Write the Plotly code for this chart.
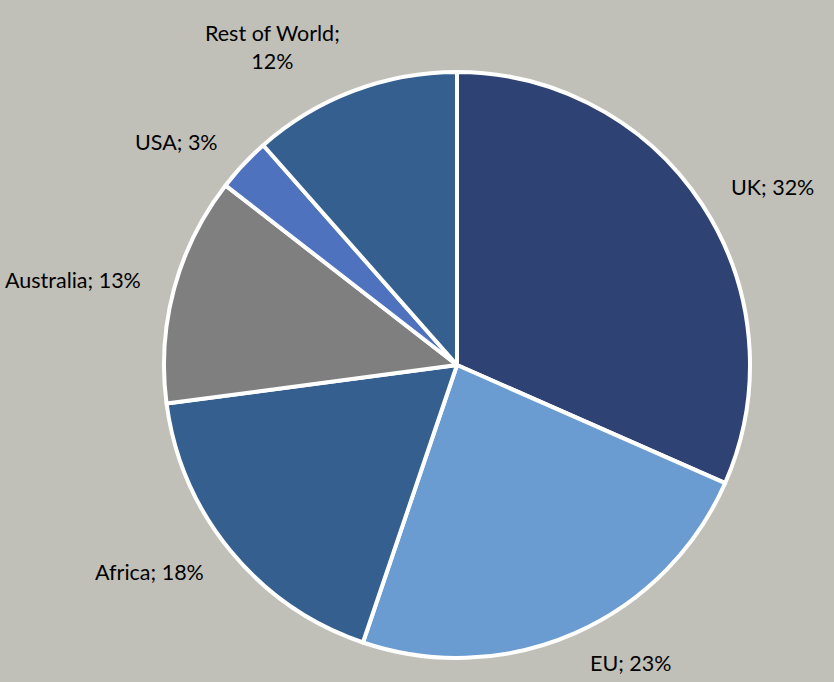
import math
import plotly.graph_objects as go

regions = ["UK", "EU", "Africa", "Australia", "USA", "Rest of World"]
shares = [31.6, 23.6, 17.7, 12.6, 3.0, 11.5]
label_texts = ["UK; 32%", "EU; 23%", "Africa; 18%", "Australia; 13%", "USA; 3%", "Rest of World;<br>12%"]
colors = ["#2E4374", "#6A9BD1", "#345F8E", "#7F7F7F", "#4F72BF", "#345F8E"]

bg = "#C1C0B8"
fig = go.Figure()
fig.add_trace(go.Pie(
    labels=regions, values=shares, sort=False, direction="clockwise", rotation=0,
    marker=dict(colors=colors, line=dict(color="white", width=4)),
    textinfo="none", hoverinfo="label+percent", showlegend=False,
    domain=dict(x=[0, 1], y=[0, 1]),
))

total = sum(shares)
cum = 0
annotations = []
font_size = 21.5
for name, v, txt in zip(regions, shares, label_texts):
    mid = (cum + v / 2) / total * 2 * math.pi
    cum += v
    s, c = math.sin(mid), math.cos(mid)
    rf = 1.11
    x = 0.5 + 0.5 * rf * s
    y = 0.5 + 0.5 * rf * c
    if s > 0.1:
        xa = "left"
    elif s < -0.1:
        xa = "right"
    else:
        xa = "center"
    nlines = txt.count("<br>") + 1
    annotations.append(dict(x=x, y=y, xref="paper", yref="paper", text=txt, showarrow=False,
                            xanchor=xa, yanchor="middle", align="center",
                            yshift=(nlines - 1) * font_size * 1.25 / 2,
                            font=dict(family="Lato, Carlito, sans-serif", size=font_size, color="black")))

fig.update_layout(
    width=834, height=682,
    paper_bgcolor=bg, plot_bgcolor=bg,
    margin=dict(l=164, r=84, t=72, b=24),
    annotations=annotations,
)
fig.write_html("out.html", config={"displayModeBar": False},
               post_script="document.body.style.margin='0';document.body.style.background='" + bg + "';")
